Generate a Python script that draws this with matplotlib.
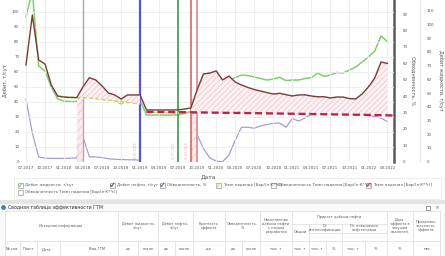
import matplotlib
matplotlib.use('Agg')
import matplotlib.pyplot as plt
from matplotlib.patches import Rectangle
import numpy as np

plt.rcParams['font.family'] = ['DejaVu Sans']
plt.rcParams['hatch.linewidth'] = 0.4

W, H = 445, 256

# месяцы: 0 = 07.2017 ... 57 = 04.2022
xtick_labels = ['07.2017', '10.2017', '01.2018', '04.2018', '07.2018', '10.2018',
                '01.2019', '04.2019', '07.2019', '10.2019', '01.2020', '04.2020',
                '07.2020', '10.2020', '01.2021', '04.2021', '07.2021', '10.2021',
                '01.2022', '04.2022']

oil = [64.5, 97.8, 67.8, 65.1, 51.0, 43.8, 43.1, 42.8, 42.7, 50.0,
       56.0, 54.5, 50.5, 45.8, 44.5, 41.8, 44.5, 44.5, 44.5, 34.5,
       34.5, 34.5, 34.5, 34.5, 34.6, 35.1, 35.8, 48.0, 58.5, 59.1,
       60.5, 54.5, 57.1, 53.1, 51.1, 49.5, 48.1, 47.1, 46.1, 45.1,
       45.6, 44.7, 43.8, 44.5, 44.6, 43.8, 43.3, 43.3, 42.5, 43.1,
       43.1, 42.1, 41.8, 45.1, 49.8, 55.8, 66.5, 65.5]

liquid = [105.6, 124.0, 69.7, 66.1, 54.4, 45.7, 44.2, 43.8, 43.7, 51.0,
          57.0, 54.0, 50.0, 45.3, 44.9, 42.0, 44.9, 44.9, 44.9, 34.0,
          34.0, 34.0, 34.0, 34.0, 34.2, 35.1, 36.6, 50.8, 63.9, 63.1,
          58.0, 54.2, 59.5, 61.3, 63.1, 62.8, 61.7, 60.6, 59.5, 60.2,
          61.5, 59.1, 59.5, 59.5, 60.6, 61.3, 64.6, 62.1, 63.1, 65.0,
          64.6, 66.8, 69.0, 72.6, 76.3, 80.6, 91.6, 87.4]

watercut = [38.2, 17.5, 2.9, 2.2, 2.0, 2.0, 2.0, 2.1, 2.3, 14.8,
            3.0, 2.9, 2.5, 1.8, 1.5, 1.3, 1.2, 1.1, 1.0, None,
            None, None, None, None, None, None, None, 16.3, 7.9, 2.3,
            0.4, 0.0, 4.0, 13.2, 21.0, 21.0, 20.4, 21.8, 22.7, 23.4,
            23.6, 21.0, 26.3, 24.8, 26.6, 29.1, 31.8, 32.4, 31.2, 31.5,
            34.0, 35.5, 32.1, 29.1, 28.2, 27.6, 26.6, 24.4]

# темп падения (базовый, до ГТМ) и после ГТМ
decl1_x = [5, 9, 14, 18]
decl1_y = [43.5, 42.8, 40.6, 38.4]
decl1b_x = [19, 23, 27]
decl1b_y = [33.0, 32.6, 32.2]
decl2_x = [19, 25, 31, 37, 43, 49, 55, 58]
decl2_y = [33.3, 33.0, 32.6, 32.3, 31.9, 31.5, 31.1, 30.8]

events_x = [9, 18, 24, 26, 27]
events_c = ['#ababab', '#5b55c6', '#3f9b50', '#d25a5d', '#dc7f82']
events_lw = [1.0, 1.6, 1.2, 1.1, 1.1]
events_txt = ['01.04.2018', '01.01.2019', '01.07.2019', '01.09.2019', '01.10.2019']

legend_items = [('Дебит жидкости, т/сут', '#7fd06a', 20, 185),
                ('Дебит нефти, т/сут', '#7a3b3b', 112, 185),
                ('Обводненность, %', '#5b55c6', 162, 185),
                ('Темп падения [Бар/(л·К**t)]', '#b9d95a', 218, 185),
                ('Обводненность Темп падения [Бар/(л·К**t)]', None, 273, 185),
                ('Темп падения [Бар/(л·К**t)]', '#c23a55', 368, 185),
                ('Обводненность Темп падения [Бар(л·К**t)]', None, 20, 192)]


def rect(x0, y0, x1, y1):
    return [x0 / W, 1 - y1 / H, (x1 - x0) / W, (y1 - y0) / H]


fig = plt.figure(figsize=(W / 100, H / 100), dpi=100)
fig.patch.set_facecolor('white')

x = np.arange(len(oil))
oil_a = np.array(oil, dtype=float)
wc_a = np.array([np.nan if v is None else v for v in watercut])

ax = fig.add_axes(rect(22, 0, 394, 161.7))
ax2 = ax.twinx()
ax3 = ax.twinx()
ax.set_zorder(3)
ax.patch.set_visible(False)

ax.set_xlim(-0.63, 58.04)
ax.set_ylim(0, 107.8)
ax2.set_ylim(0, 98.6)
ax3.set_ylim(0, 117.8)

ax.set_xticks(range(0, 58, 3))
ax.set_xticklabels(xtick_labels)
ax.set_yticks(range(0, 101, 10))
ax2.set_yticks(range(0, 91, 10))
ax3.set_yticks(range(0, 111, 10))
ax.grid(True, color='#ececec', lw=0.6)
ax.set_axisbelow(True)

for a in (ax, ax2, ax3):
    for s in a.spines.values():
        s.set_visible(False)
    a.tick_params(length=0, labelsize=2.9, colors='#555555')
ax.tick_params(axis='x', pad=3)
ax.tick_params(axis='y', pad=2)
ax2.spines['right'].set_visible(True)
ax2.spines['right'].set_color('#5a5a5a')
ax2.spines['right'].set_linewidth(1.8)
ax2.tick_params(axis='y', pad=6)
ax3.spines['right'].set_visible(True)
ax3.spines['right'].set_position(('axes', 1.07))
ax3.spines['right'].set_color('#e2e2e2')
ax3.spines['right'].set_linewidth(0.6)
ax3.tick_params(axis='y', pad=5)

ax.set_xlabel('Дата', fontsize=4.2, color='#555555', labelpad=3)
ax.set_ylabel('Дебит, т/сут', fontsize=3.6, color='#555555', labelpad=3)
ax2.set_ylabel('Обводненность, %', fontsize=3.6, color='#555555', rotation=270, labelpad=6)
ax3.set_ylabel('Дебит жидкости, т/сут', fontsize=3.6, color='#555555', rotation=270, labelpad=6)

# вертикальные линии мероприятий
for ex, ec, elw, et in zip(events_x, events_c, events_lw, events_txt):
    ax.axvline(ex, color=ec, lw=elw, zorder=2)
    ax.text(ex - 0.35, 2, et, rotation=90, fontsize=2.2, color=ec, alpha=0.45,
            ha='right', va='bottom', zorder=2)
ax.axvspan(8.1, 9, ymin=0, ymax=0.39, facecolor='#fbeaec', edgecolor='#efc0c6',
           hatch='////', lw=0, zorder=1)
ax.axvspan(26, 27, ymin=0, ymax=0.39, facecolor='#fbeaec', edgecolor='#efc0c6',
           hatch='////', lw=0, zorder=1)

# заливка эффекта
xs1 = x[8:19]
ax.fill_between(xs1, oil_a[8:19], np.interp(xs1, decl1_x, decl1_y),
                facecolor='#fcf1f2', edgecolor='#ebb6bd', hatch='//////', lw=0, zorder=2)
xs2 = x[26:]
ax.fill_between(xs2, oil_a[26:], np.interp(xs2, decl2_x, decl2_y),
                facecolor='#fcf1f2', edgecolor='#ebb6bd', hatch='//////', lw=0, zorder=2)

ax2.plot(x, wc_a, color='#a49fd2', lw=0.9)
ax3.plot(x, liquid, color='#7fd06a', lw=1.1)
ax.plot(decl1_x, decl1_y, color='#c5dc5c', lw=1.0, ls=(0, (3, 1.5)), zorder=4)
ax.plot(decl1b_x, decl1b_y, color='#c5dc5c', lw=1.0, ls=(0, (3, 1.5)), zorder=4)
ax.plot(x, oil_a, color='#7a3b3b', lw=1.0, zorder=5)
ax.plot(decl2_x, decl2_y, color='#b8264d', lw=1.7, ls=(0, (3, 1.6)), zorder=6,
        clip_on=False)

# нижняя панель: легенда и таблица (пиксельные координаты)
ov = fig.add_axes([0, 0, 1, 1], zorder=-1)
ov.set_xlim(0, W)
ov.set_ylim(H, 0)
ov.axis('off')

ov.add_patch(Rectangle((14, 178), 427, 21, fc='none', ec='#e6e6e6', lw=0.5))
for label, col, lx, ly in legend_items:
    ov.add_patch(Rectangle((lx - 2.5, ly - 2.5), 5, 5, fc='white', ec='#9a9a9a', lw=0.5))
    if col is not None:
        ov.plot([lx - 1.6, lx - 0.4, lx + 1.8], [ly, ly + 1.5, ly - 1.8], color=col, lw=0.7)
    ov.text(lx + 5, ly, label, fontsize=2.9, color='#555555', va='center', ha='left')

ov.add_patch(Rectangle((0, 200), W, 3.5, fc='#e4e4e4', ec='none'))
ov.add_patch(Rectangle((0, 203.5), W, H - 203.5, fc='#fafafa', ec='none'))
ov.add_patch(plt.Circle((3.5, 207.5), 2.4, fc='#3d7fc4', ec='none'))
ov.text(8, 207.5, 'Сводная таблица эффективности ГТМ', fontsize=3.4, color='#333333',
        va='center', ha='left')
ov.add_patch(Rectangle((426, 205.5), 4, 4, fc='none', ec='#777777', lw=0.5))
ov.text(437, 207.5, '×', fontsize=4, color='#777777', va='center', ha='center')

ov.add_patch(Rectangle((5, 211), 435, H - 211, fc='white', ec='none'))
grid_c = '#dcdcdc'
ov.plot([5, 440], [211, 211], color=grid_c, lw=0.5)
ov.plot([5, 440], [241, 241], color=grid_c, lw=0.5)
ov.plot([292, 387], [224, 224], color=grid_c, lw=0.5)
ov.plot([309, 387], [233, 233], color=grid_c, lw=0.5)
for vx in [5, 118, 158, 193, 225, 260, 292, 387, 413, 440]:
    ov.plot([vx, vx], [211, H], color=grid_c, lw=0.5)
for vx in [309, 342]:
    ov.plot([vx, vx], [224, H], color=grid_c, lw=0.5)
for vx in [20, 37, 60, 138, 175, 242, 326, 365]:
    ov.plot([vx, vx], [241, H], color=grid_c, lw=0.5)

hdr = [('Исходная информация', 61, 226), ('Дебит жидкости,\nт/сут', 138, 226),
       ('Дебит нефти,\nт/сут', 175, 226), ('Кратность\nэффекта', 209, 226),
       ('Обводненность,\n%', 242, 226),
       ('Накопленная\nдобыча нефти\nс начала\nразработки', 276, 226),
       ('Прирост добычи нефти', 339, 217), ('Общий', 300, 232),
       ('От\nинтенсификации', 325, 228), ('От повышения\nнефтеотдачи', 364, 228),
       ('Доля\nэффекта в\nтекущей\nнакоплен.', 400, 226),
       ('Продолжи-\nтельность\nэффекта', 426, 226)]
for t, tx, ty in hdr:
    ov.text(tx, ty, t, fontsize=2.5, color='#555555', ha='center', va='center',
            linespacing=1.1)

units = [('№ скв.', 12), ('Пласт', 28.5), ('Дата', 47), ('Вид ГТМ', 97),
         ('до', 128), ('после', 148), ('до', 166), ('после', 184), ('д.е.', 209),
         ('до', 233), ('после', 251), ('тыс. т', 276), ('тыс. т', 300),
         ('тыс. т', 317), ('%', 334), ('тыс. т', 353), ('%', 376),
         ('%', 400), ('мес', 427)]
for t, tx in units:
    ov.text(tx, 249, t, fontsize=2.6, color='#555555', ha='center', va='center')

fig.savefig('out.png', dpi=100, facecolor='white')
